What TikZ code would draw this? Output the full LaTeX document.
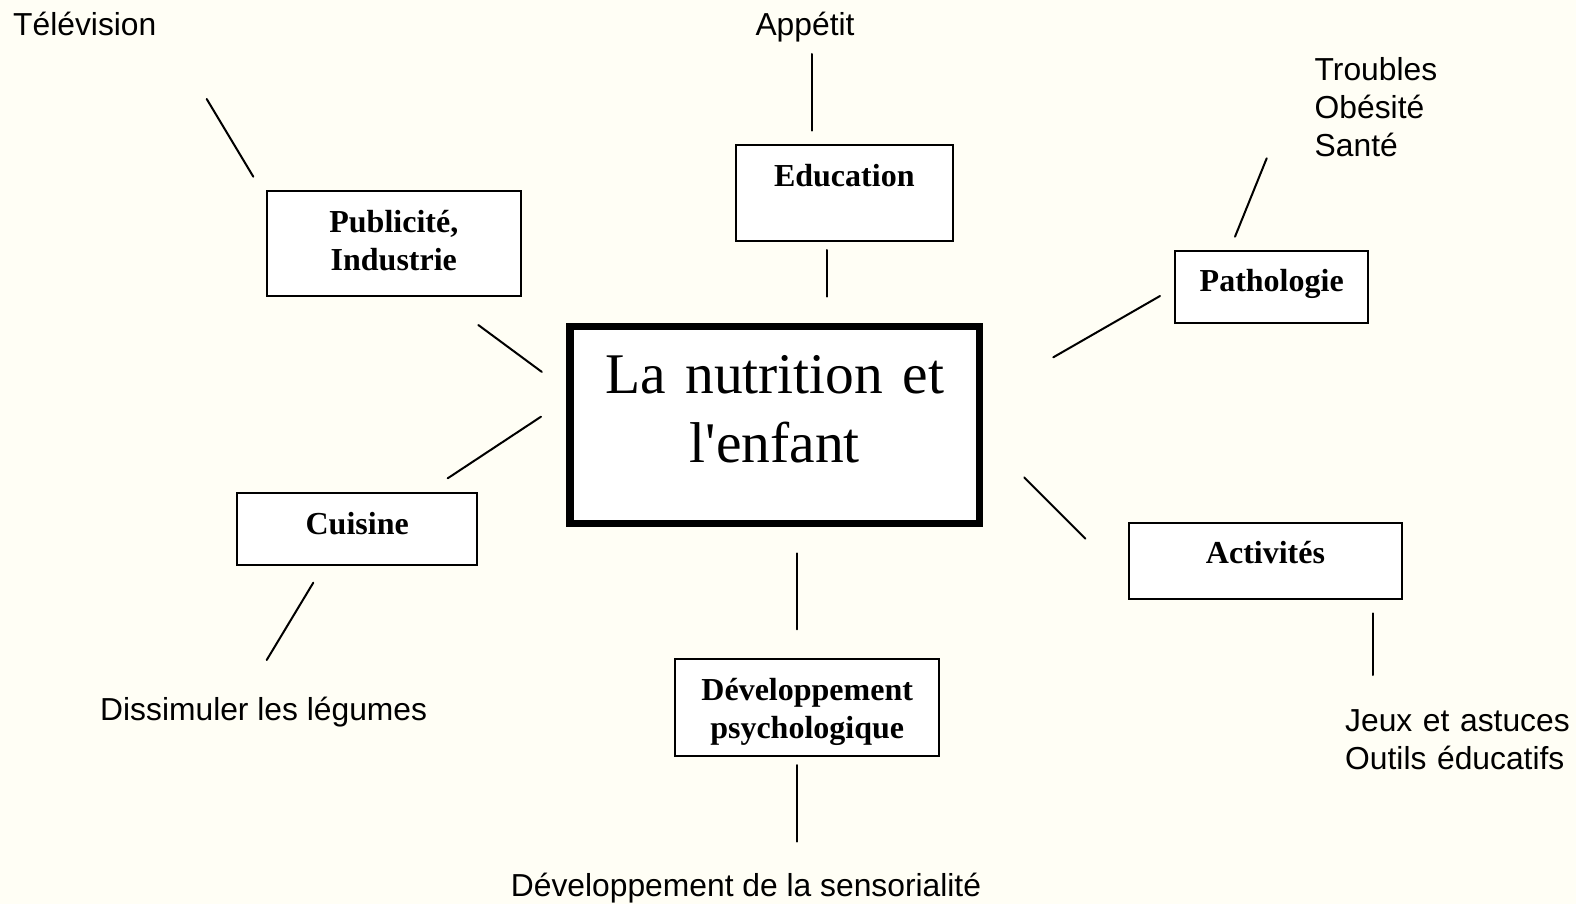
\documentclass[tikz,border=0pt]{standalone}
\usepackage{fontspec}
\setmainfont{Liberation Serif}
\newfontfamily\labelfont{Liberation Sans}
\definecolor{bgcream}{RGB}{255,254,245}
\begin{document}
\begin{tikzpicture}[x=1pt,y=-1pt,
  conn/.style={line width=2pt, line cap=round},
  box/.style={draw, fill=white, line width=2pt, inner sep=0pt, align=center,
    font=\fontsize{32}{38}\selectfont\bfseries, anchor=base},
  mainbox/.style={draw, fill=white, line width=7.5pt, inner sep=0pt, align=center,
    font=\fontsize{57.5}{69}\selectfont, anchor=base},
  lbl/.style={font=\labelfont\fontsize{31.8}{38}\selectfont, inner sep=0pt, anchor=base west, align=left},
  clbl/.style={font=\labelfont\fontsize{31.8}{38}\selectfont, inner sep=0pt, anchor=base}]
\fill[bgcream] (0,0) rectangle (1576,904);
\useasboundingbox (0,0) rectangle (1576,904);

% boxes
\node[mainbox, text width=409.3pt, text height=66.8pt, text depth=129.8pt] (main) at (774.7,393.5) {\mbox{La nutrition et}\\\mbox{l\textquotesingle enfant}};
\node[box, text width=253.7pt, text height=42pt, text depth=63.6pt] (pub) at (393.8,232.7) {Publicité,\\Industrie};
\node[box, text width=216.7pt, text height=41pt, text depth=55pt] (edu) at (844.3,186) {Education};
\node[box, text width=193.3pt, text height=41pt, text depth=31.6pt] (path) at (1271.7,291.7) {Pathologie};
\node[box, text width=240.3pt, text height=41pt, text depth=31.3pt] (cuis) at (357.2,534) {Cuisine};
\node[box, text width=272.4pt, text height=40pt, text depth=35.7pt] (act) at (1265.5,563.3) {Activités};
\node[box, text width=264.3pt, text height=41pt, text depth=55.7pt] (dev) at (807.2,700) {Développement\\psychologique};

% labels
\node[lbl] (tele) at (13,36) {Télévision};
\node[clbl] (app) at (805,36) {Appétit};
\node[lbl, text width=300pt] (troub) at (1314.5,81) {Troubles\\Obésité\\Santé};
\node[lbl] (diss) at (100,720) {Dissimuler les légumes};
\node[lbl, text width=240pt] (jeux) at (1345,731) {\mbox{Jeux et astuces}\\\mbox{Outils éducatifs}};
\node[clbl] (sens) at (746,896) {Développement de la sensorialité};

% connector end points
\coordinate (tvA) at (206.7,99);      \coordinate (tvB) at (253.3,176.7);
\coordinate (pmA) at (478.3,325);     \coordinate (pmB) at (541.8,371.9);
\coordinate (cmA) at (447.7,478.3);   \coordinate (cmB) at (541,416.7);
\coordinate (cdA) at (313.3,582.7);   \coordinate (cdB) at (266.7,660);
\coordinate (apA) at (812,54);        \coordinate (apB) at (812,130.7);
\coordinate (emA) at (827,250);       \coordinate (emB) at (827,296.7);
\coordinate (pcA) at (1160,296);      \coordinate (pcB) at (1053.3,357.3);
\coordinate (ptA) at (1266.7,158.3);  \coordinate (ptB) at (1235,236.7);
\coordinate (amA) at (1024.2,477.4);  \coordinate (amB) at (1085.5,538.7);
\coordinate (ajA) at (1372.7,613.3);  \coordinate (ajB) at (1372.7,675);
\coordinate (dmA) at (796.7,553.3);   \coordinate (dmB) at (796.7,629.3);
\coordinate (dsA) at (796.7,765);     \coordinate (dsB) at (796.7,841.7);

\draw[conn] (tvA) -- (tvB);
\draw[conn] (pmA) -- (pmB);
\draw[conn] (cmA) -- (cmB);
\draw[conn] (cdA) -- (cdB);
\draw[conn] (apA) -- (apB);
\draw[conn] (emA) -- (emB);
\draw[conn] (pcA) -- (pcB);
\draw[conn] (ptA) -- (ptB);
\draw[conn] (amA) -- (amB);
\draw[conn] (ajA) -- (ajB);
\draw[conn] (dmA) -- (dmB);
\draw[conn] (dsA) -- (dsB);
\end{tikzpicture}
\end{document}
